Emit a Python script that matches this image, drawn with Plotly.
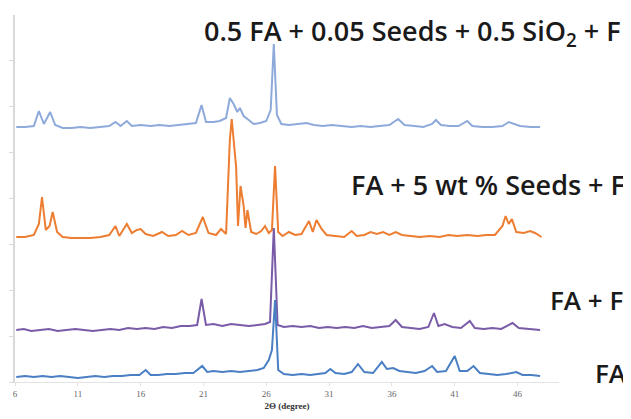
import plotly.graph_objects as go

# ---- data (2θ in degrees, intensity in arbitrary offset units) ----
tt_top = [6.1, 6.8, 7.5, 7.9, 8.3, 8.8, 9.2, 9.8, 10.5, 11.2, 12, 12.8, 13.5, 14.0, 14.4, 14.9, 15.3, 16, 16.8,
          17.5, 18.3, 19, 19.8, 20.4, 20.85, 21.2, 21.8, 22.3, 22.8, 23.1, 23.4, 23.7, 23.9, 24.2, 24.6, 25.0,
          25.5, 26.0, 26.35, 26.6, 26.85, 27.2, 27.8, 28.5, 29.2, 29.8, 30.5, 31.2, 32, 32.8, 33.5, 34.3, 35,
          35.8, 36.5, 37, 37.8, 38.5, 39.2, 39.5, 39.9, 40.6, 41.3, 42.0, 42.4, 43.2, 44, 44.8, 45.3, 45.7,
          46.2, 47, 47.8]
int_top = [255, 255, 256, 271, 258, 270, 257, 254, 254, 255, 254, 255, 256, 260, 256, 261, 256, 257, 256,
           257, 256, 257, 258, 259, 277, 260, 260, 261, 264, 284, 278, 270, 274, 266, 262, 258,
           259, 261, 272, 338, 267, 258, 257, 258, 259, 257, 256, 257, 256, 255, 256, 255, 256,
           257, 263, 257, 256, 255, 258, 262, 257, 256, 256, 261, 256, 255, 255, 256, 260, 258,
           256, 255, 255]

tt_seed = [6.1, 6.8, 7.5, 7.9, 8.15, 8.45, 8.75, 9.0, 9.35, 9.8, 10.5, 11.2, 12, 12.8, 13.5, 14.0, 14.3, 14.9,
           15.3, 15.7, 16.0, 16.4, 17.0, 17.7, 18.2, 18.8, 19.3, 19.8, 20.4, 20.95, 21.4, 22.0, 22.4, 22.8,
           23.1, 23.25, 23.45, 23.6, 23.75, 23.95, 24.2, 24.35, 24.5, 24.8, 25.2, 25.6, 25.9, 26.2, 26.45,
           26.7, 26.95, 27.3, 27.8, 28.3, 28.8, 29.4, 29.7, 30.0, 30.4, 30.8, 31.5, 32.2, 32.8, 33.2, 33.8,
           34.3, 34.8, 35.3, 35.8, 36.3, 36.8, 37.5, 38.2, 39, 39.8, 40.5, 41.2, 42, 42.8, 43.5, 44.2, 44.8,
           45.05, 45.3, 45.55, 45.9, 46.5, 47.0, 47.4, 47.9]
int_seed = [145, 145, 147, 158, 185, 152, 156, 170, 150, 145, 144, 144, 144, 145, 147, 156, 146, 158,
            149, 152, 153, 148, 146, 150, 146, 147, 151, 147, 149, 165, 149, 147, 153, 148,
            242, 263, 232, 215, 156, 196, 176, 154, 172, 150, 148, 151, 156, 149, 152,
            216, 150, 146, 150, 147, 148, 161, 150, 162, 153, 147, 146, 145, 151, 146, 147,
            150, 148, 150, 147, 150, 147, 146, 145, 146, 145, 147, 146, 147, 146, 147, 147, 156,
            166, 158, 163, 150, 149, 151, 149, 145]

tt_faf = [6.1, 6.7, 7.3, 8, 8.7, 9.4, 10.1, 10.8, 11.5, 12.2, 12.9, 13.6, 14.3, 15.0, 15.7, 16.4, 17.1, 17.8,
          18.5, 19.2, 19.9, 20.5, 20.85, 21.2, 21.8, 22.5, 23.2, 23.9, 24.6, 25.3, 25.9, 26.3, 26.6, 26.9,
          27.4, 28.1, 28.8, 29.5, 30.2, 30.9, 31.6, 32.3, 33.0, 33.7, 34.4, 35.1, 35.8, 36.3, 36.8, 37.5,
          38.2, 38.9, 39.35, 39.7, 40.2, 40.8, 41.5, 42.2, 42.6, 43.3, 44, 44.7, 45.6, 46.1, 46.8, 47.8]
int_faf = [52, 53, 51, 52, 53, 51, 52, 53, 52, 51, 52, 53, 52, 54, 53, 54, 53, 55,
           54, 56, 56, 57, 83, 57, 58, 56, 58, 57, 56, 57, 58, 60, 154, 57,
           55, 56, 55, 56, 54, 55, 54, 55, 54, 56, 54, 55, 56, 62, 55, 54,
           53, 55, 69, 56, 58, 55, 54, 61, 54, 53, 54, 53, 59, 54, 53, 52]

tt_fa = [6.1, 6.8, 7.5, 8.2, 8.9, 9.6, 10.3, 11, 11.7, 12.4, 13.1, 13.8, 14.5, 15.2, 15.9, 16.4, 16.8, 17.4,
         18.1, 18.8, 19.5, 20.2, 20.9, 21.3, 21.8, 22.5, 23.2, 23.9, 24.6, 25.3, 25.8, 26.2, 26.45, 26.7,
         26.95, 27.4, 28.1, 28.8, 29.5, 30.2, 30.7, 31.1, 31.5, 32.2, 32.8, 33.3, 33.8, 34.5, 35.2, 35.6,
         36.1, 36.6, 37.2, 37.9, 38.6, 39.2, 39.6, 40.3, 41.0, 41.4, 42.0, 42.5, 43.0, 43.7, 44.4, 45.1,
         45.9, 46.4, 47.1, 47.8]
int_fa = [5, 6, 5, 6, 5, 6, 5, 4, 5, 6, 5, 6, 6, 7, 7, 12, 7, 7,
          8, 8, 9, 9, 16, 10, 11, 10, 11, 10, 11, 12, 14, 22, 32, 82,
          12, 8, 7, 8, 7, 8, 9, 13, 9, 8, 10, 18, 10, 9, 20, 13,
          14, 11, 10, 9, 11, 16, 10, 11, 26, 11, 11, 16, 9, 8, 7, 8,
          10, 7, 7, 6]

x_ticks = [6, 11, 16, 21, 26, 31, 36, 41, 46]

labels = ["0.5 FA + 0.05 Seeds + 0.5 SiO<sub>2</sub> + F", "FA + 5 wt % Seeds + F", "FA + F", "FA"]
colors = ["#8eaadb", "#ed7d31", "#7a5ba8", "#4a7fc4"]

fig = go.Figure()
series = [(tt_top, int_top), (tt_seed, int_seed), (tt_faf, int_faf), (tt_fa, int_fa)]
for (xs, ys), c, name in zip(series, colors, labels):
    fig.add_trace(go.Scatter(x=xs, y=ys, mode="lines", name=name,
                             line=dict(color=c, width=2), showlegend=False))

# page has an 8px body margin: figure drawn at (8, 8); keep it inside the window
OFF = 8
W, H = 631 - OFF, 419 - 2 * OFF
L, T = 15 - OFF, 15 - OFF
R = W - (559 - OFF)
B = H - (382 - OFF)
pw, ph = W - L - R, H - T - B
def px(xp):
    return (xp - OFF - L) / pw
def py(yp):
    return (H - B - (yp - OFF)) / ph

label_x = [202, 349, 548, 593]
label_y = [32, 185, 300, 373]
label_size = [27, 27, 26, 26]
for txt, xx, yy, sz in zip(labels, label_x, label_y, label_size):
    fig.add_annotation(text=txt, xref="paper", yref="paper", x=px(xx), y=py(yy),
                       xanchor="left", yanchor="middle", showarrow=False,
                       font=dict(family="Open Sans", size=sz, color="#1a1a1a", weight=600))

fig.update_layout(
    width=W, height=H,
    margin=dict(l=L, r=R, t=T, b=B, autoexpand=False),
    paper_bgcolor="white", plot_bgcolor="white",
    xaxis=dict(range=[6, 49.3], tickvals=x_ticks, ticktext=[str(v) for v in x_ticks], automargin=False,
               showgrid=False, zeroline=False, showline=True, linecolor="#e3e3e3", linewidth=1,
               ticks="outside", ticklen=3, tickcolor="#e3e3e3",
               tickfont=dict(family="Liberation Serif", size=9, color="#666666"),
               title=dict(text="<b>2Θ (degree)</b>", standoff=4,
                          font=dict(family="Liberation Serif", size=9, color="#333333"))),
    yaxis=dict(range=[0, 367], dtick=46, showticklabels=False, showgrid=False, zeroline=False, automargin=False,
               showline=True, linecolor="#d9d9d9", linewidth=1.5, ticks="outside", ticklen=4,
               tickcolor="#d9d9d9"),
)

fig.write_html("out.html")
